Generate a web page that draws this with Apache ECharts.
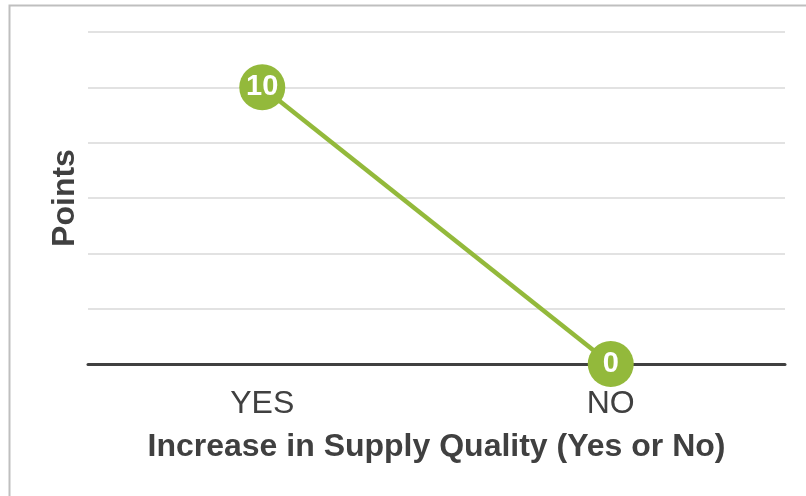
<!DOCTYPE html>
<html>
<head>
<meta charset="utf-8">
<script src="https://cdn.jsdelivr.net/npm/echarts@6/dist/echarts.min.js"></script>
<style>
  html, body { margin: 0; padding: 0; background: #ffffff; }
  #chart { width: 806px; height: 496px; }
</style>
</head>
<body>
<div id="chart"></div>
<script>
// Points awarded for each answer
const categories = ['YES', 'NO'];
const points = [10, 0];

const yMin = 0;
const yMax = 12;
const yStep = 2;

const green = '#93b93b';
const textColor = '#404040';
const font = 'Liberation Sans, Arial, sans-serif';

const chart = echarts.init(document.getElementById('chart'), null, { renderer: 'canvas' });

chart.setOption({
  backgroundColor: '#ffffff',
  animation: false,
  graphic: [{
    type: 'rect',
    left: 7,
    top: 3,
    shape: { width: 900, height: 600 },
    style: { fill: 'none', stroke: '#bfbfbf', lineWidth: 2 },
    silent: true
  }],
  grid: { left: 88, right: 21, top: 32, bottom: 132 },
  xAxis: {
    type: 'category',
    data: categories,
    boundaryGap: true,
    name: 'Increase in Supply Quality (Yes or No)',
    nameLocation: 'middle',
    nameGap: 67,
    nameTextStyle: {
      fontFamily: font, fontSize: 32, fontWeight: 'bold', color: textColor
    },
    axisLine: { lineStyle: { color: '#404040', width: 3 } },
    axisTick: { show: false },
    axisLabel: {
      margin: 24,
      fontFamily: font, fontSize: 32, color: textColor
    }
  },
  yAxis: {
    type: 'value',
    min: yMin,
    max: yMax,
    interval: yStep,
    name: 'Points',
    nameLocation: 'middle',
    nameGap: 7,
    nameRotate: 90,
    nameTextStyle: {
      fontFamily: font, fontSize: 32, fontWeight: 'bold', color: textColor
    },
    axisLine: { show: false },
    axisTick: { show: false },
    axisLabel: { show: false },
    splitLine: { lineStyle: { color: '#d9d9d9', width: 1.5 } }
  },
  series: [{
    type: 'line',
    data: points,
    symbol: 'circle',
    symbolSize: 46,
    lineStyle: { color: green, width: 4.5 },
    itemStyle: { color: green },
    label: {
      show: true,
      position: 'inside',
      color: '#ffffff',
      fontFamily: font,
      fontSize: 29,
      fontWeight: 'bold'
    },
    z: 5
  }]
});
</script>
</body>
</html>
